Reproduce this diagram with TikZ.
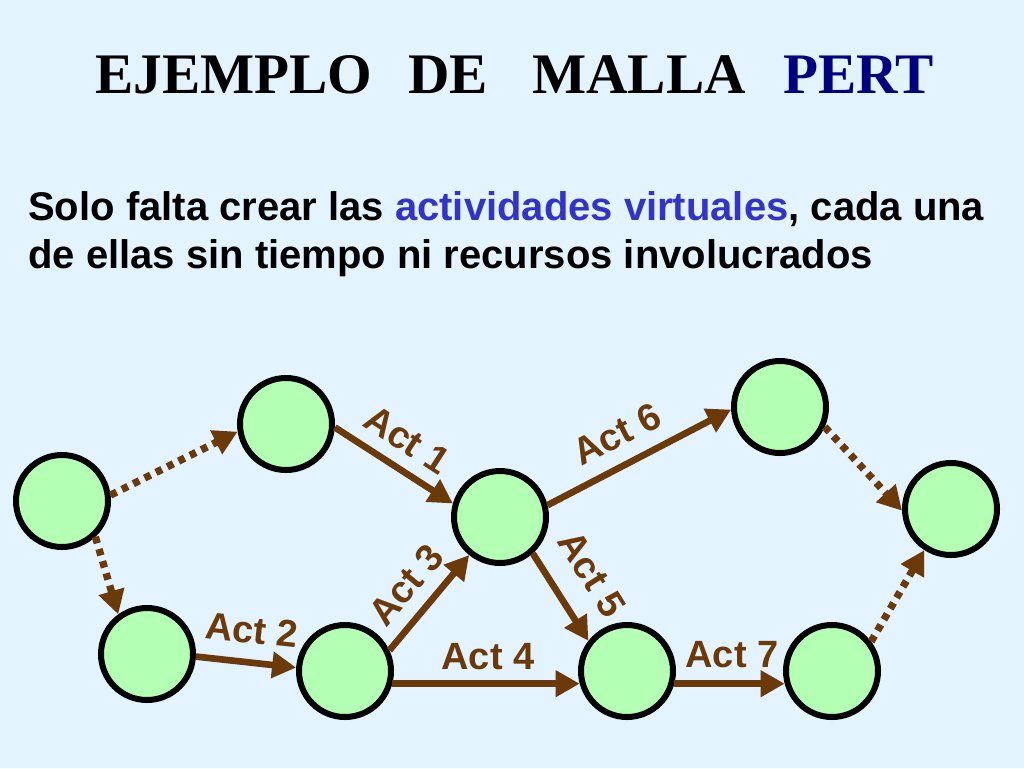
\documentclass[tikz,border=0pt]{standalone}
\usepackage{fontspec}
\setmainfont{Liberation Serif}
\setsansfont{Liberation Sans}
\usetikzlibrary{arrows.meta}
\definecolor{bgblue}{HTML}{E3F3FF}
\definecolor{evgreen}{HTML}{B3FFB3}
\definecolor{actbrown}{HTML}{6B3A08}
\definecolor{pertnavy}{HTML}{000080}
\definecolor{virtblue}{HTML}{3333CC}
\tikzset{x=.75pt,y=-.75pt,
  every node/.style={inner sep=0pt},
  event/.style={circle,draw=black,fill=evgreen,line width=4.5pt,minimum size=69pt},
  act/.style={-{Triangle[length=18pt,width=19pt]},draw=actbrown,line width=5pt},
  virt/.style={act,line width=5.5pt,dash pattern=on 5pt off 4.5pt},
  actlabel/.style={text=actbrown,font=\sffamily\bfseries\fontsize{28.5}{34}\selectfont},
  title/.style={anchor=base west,font=\rmfamily\bfseries\fontsize{43}{50}\selectfont}}
\begin{document}
\begin{tikzpicture}
\fill[bgblue] (0,0) rectangle (1024,768);
% titulo
\node[title] (t1) at (95,93) {EJEMPLO};
\node[title] (t2) at (408,93) {DE};
\node[title] (t3) at (532,93) {MALLA};
\node[title,text=pertnavy] (t4) at (783,93) {PERT};
\node[anchor=base west,align=left,font=\sffamily\bfseries\fontsize{30}{36}\selectfont] (txt) at (28,268)
  {Solo falta crear las \textcolor{virtblue}{actividades virtuales}, cada una\\de ellas sin tiempo ni recursos involucrados};
% eventos
\node[event] (n1) at (62,501) {};
\node[event] (n2) at (286,424) {};
\node[event] (n3) at (147,654) {};
\node[event] (n4) at (500,517) {};
\node[event] (n5) at (345,671) {};
\node[event] (n6) at (627,671) {};
\node[event] (n7) at (780,407) {};
\node[event] (n8) at (951,509) {};
\node[event] (n9) at (832,671) {};
% actividades
\draw[virt] (n1.7)--(n2.189);
\draw[virt] (n1.-47)--(n3.126);
\draw[act] (n2.-4)--(n4.164);
\draw[act] (n3.-3)--(n5.176);
\draw[act] (n5.25)--(n4.231);
\draw[act] (n5.-15)--(n6.195);
\draw[act] (n4.-48)--(n6.142);
\draw[act] (n4.14)--(n7.183);
\draw[act] (n6.-15)--(n9.195);
\draw[virt] (n7.-24)--(n8.182);
\draw[virt] (n9.37)--(n8.237);
\node[actlabel,rotate=-33] (l1) at (407,440) {Act 1};
\node[actlabel,rotate=-6] (l2) at (252,630) {Act 2};
\node[actlabel,rotate=50] (l3) at (406,585) {Act 3};
\node[actlabel] (l4) at (488,657) {Act 4};
\node[actlabel,rotate=-58] (l5) at (592,574) {Act 5};
\node[actlabel,rotate=27] (l6) at (617,434) {Act 6};
\node[actlabel] (l7) at (732,655) {Act 7};
\end{tikzpicture}
\end{document}
